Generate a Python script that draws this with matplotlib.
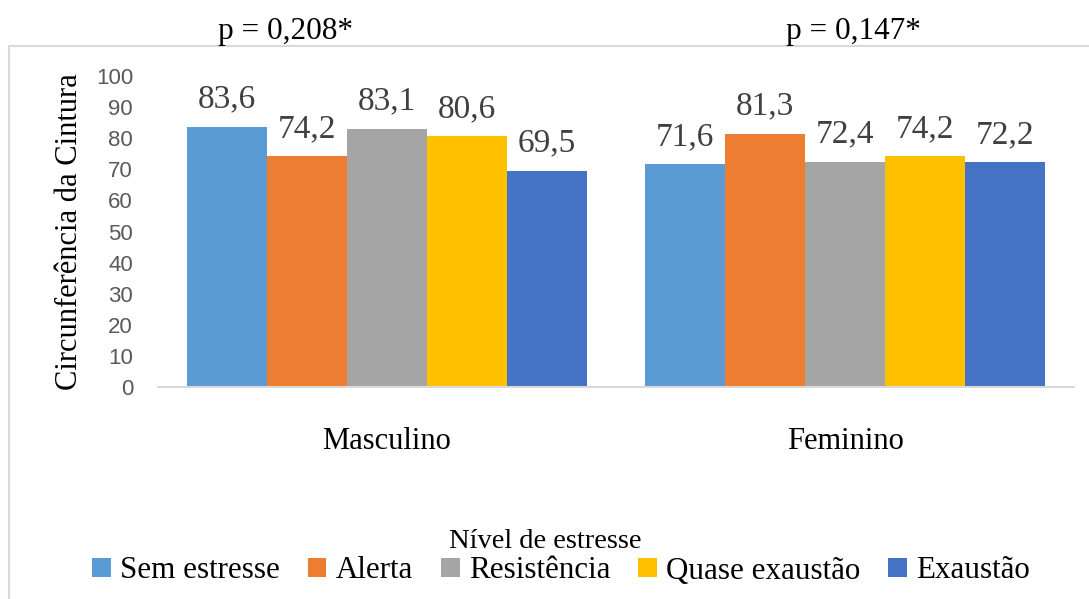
import matplotlib.pyplot as plt
import numpy as np
from matplotlib.patches import Rectangle

groups = ['Masculino', 'Feminino']
levels = ['Sem estresse', 'Alerta', 'Resistência', 'Quase exaustão', 'Exaustão']
values = {
    'Sem estresse': [83.6, 71.6],
    'Alerta': [74.2, 81.3],
    'Resistência': [83.1, 72.4],
    'Quase exaustão': [80.6, 74.2],
    'Exaustão': [69.5, 72.2],
}
p_labels = ['p = 0,208*', 'p = 0,147*']
colors = ['#5B9BD5', '#ED7D31', '#A5A5A5', '#FFC000', '#4472C4']

serif = 'Liberation Serif'
W, H = 1089, 599
fig = plt.figure(figsize=(W / 100, H / 100), dpi=100)

# chart border (only top and left edges visible)
fig.patches.append(Rectangle((9 / W, -0.1), 1.2, 1 - 46 / H + 0.1, transform=fig.transFigure,
                             fill=False, edgecolor='#D9D9D9', linewidth=1.5))

ax = fig.add_axes([158 / W, 1 - 387 / H, (1074 - 158) / W, (387 - 76) / H])

x = np.arange(len(groups))
w = 0.873 / len(levels)
for j, lev in enumerate(levels):
    pos = x + (j - 2) * w
    ax.bar(pos, values[lev], width=w, color=colors[j], label=lev)
    for xi, v in zip(pos, values[lev]):
        ax.annotate(f'{v:.1f}'.replace('.', ','), (xi, v), xytext=(0, 14), textcoords='offset points',
                    ha='center', va='baseline', fontsize=24, family=serif, color='#404040')

ax.set_xlim(-0.5, 1.5)
ax.set_ylim(0, 100)
ax.set_yticks(range(0, 101, 10))
ax.set_xticks(x)
ax.set_xticklabels(groups, fontsize=22, family=serif)
ax.tick_params(axis='x', length=0, pad=29)
ax.tick_params(axis='y', length=0, pad=18, labelsize=16, labelcolor='#595959')
for lab in ax.get_yticklabels():
    lab.set_family('Liberation Sans')
for s in ['top', 'right', 'left']:
    ax.spines[s].set_visible(False)
ax.spines['bottom'].set_color('#D9D9D9')
ax.spines['bottom'].set_linewidth(1.5)
ax.set_ylabel('Circunferência da Cintura', fontsize=22, family=serif)
ax.yaxis.set_label_coords(-0.081, 0.5)

for xi, pl in zip([286, 853], p_labels):
    fig.text(xi / W, 1 - 31 / H, pl, ha='center', va='center', fontsize=22.5, family=serif)

# legend title sits a bit left of the entries' centre
fig.text(545 / W, 1 - 541 / H, 'Nível de estresse', ha='center', va='center', fontsize=20.5, family=serif)
fig.legend(loc='center', bbox_to_anchor=(561 / W, 1 - 571 / H), ncol=5, frameon=False,
           handlelength=0.6, handleheight=0.6, handletextpad=0.3,
           columnspacing=0.9, borderaxespad=0, borderpad=0,
           prop={'family': serif, 'size': 22.3})

fig.savefig('out.png', dpi=100)
